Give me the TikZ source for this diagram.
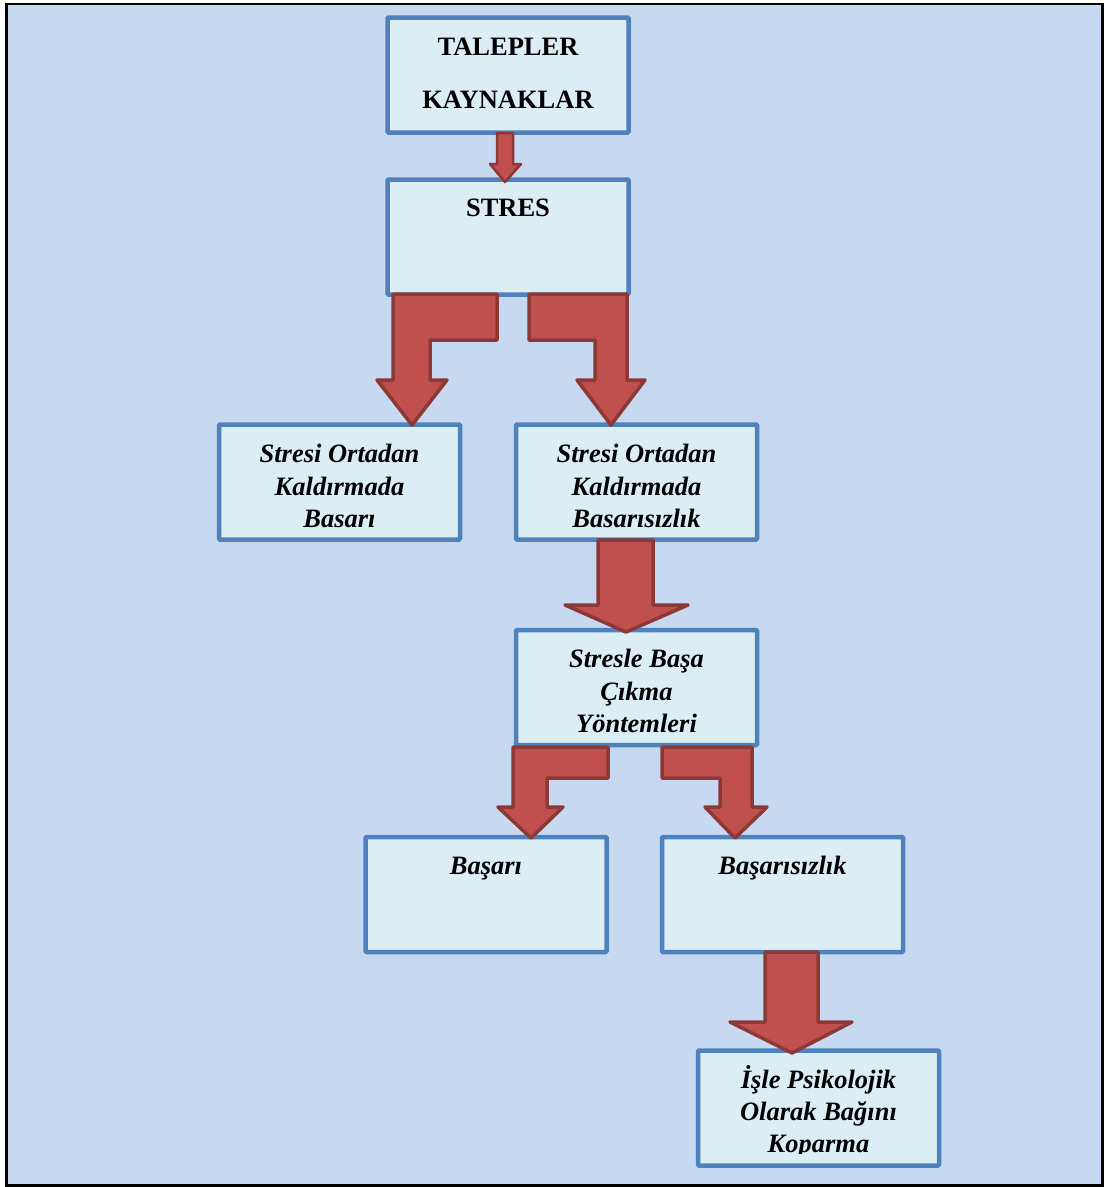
\documentclass[tikz,border=0pt]{standalone}
\usepackage{fontspec}
\setmainfont{Liberation Serif}
\definecolor{bg}{HTML}{C6D9F0}
\definecolor{boxfill}{HTML}{DBEEF4}
\definecolor{boxline}{HTML}{4F81BD}
\definecolor{arrfill}{HTML}{C0504D}
\definecolor{arrline}{HTML}{8C3836}
\begin{document}
\begin{tikzpicture}[x=1pt,y=-1pt,
  box/.style={draw=boxline,fill=boxfill,line width=4.5pt,minimum width=241pt,minimum height=115pt,inner sep=0pt,rounded corners=1pt},
  btxt/.style={font=\fontsize{26.5}{32.5}\selectfont\bfseries,align=center,inner sep=0pt,anchor=base},
  itxt/.style={font=\fontsize{26.5}{32.5}\selectfont\bfseries\itshape,align=center,inner sep=0pt,anchor=base},
  blockarrow/.style={fill=arrfill,draw=arrline,line width=3.5pt,line join=round}
]
\useasboundingbox (0,0) rectangle (1108,1187);
\fill[white] (0,0) rectangle (1108,1187);
\draw[fill=bg,line width=2.2pt] (6.5,4) rectangle (1102.5,1185.5);

% boxes
\node[box] (b1) at (508,75) {};
\node[box] (b2) at (508,237) {};
\node[box] (b3) at (339.5,482) {};
\node[box] (b4) at (636.5,482) {};
\node[box] (b5) at (636.5,687.5) {};
\node[box] (b6) at (486,894.5) {};
\node[box] (b7) at (782.5,894.5) {};
\node[box] (b8) at (818.5,1108) {};

% texts
\node[btxt] (t1a) at (508,55) {TALEPLER};
\node[btxt] (t1b) at (508,108) {KAYNAKLAR};
\node[btxt] (t2) at (508,216) {STRES};
\node[itxt] (t3a) at (339.5,462) {Stresi Ortadan};
\node[itxt] (t3b) at (339.5,495) {Kaldırmada};
\node[itxt] (t3c) at (339.5,527) {Basarı};
\node[itxt] (t4a) at (636.5,462) {Stresi Ortadan};
\node[itxt] (t4b) at (636.5,495) {Kaldırmada};
\node[itxt] (t4c) at (636.5,527) {Basarısızlık};
\node[itxt] (t5a) at (636.5,667) {Stresle Başa};
\node[itxt] (t5b) at (636.5,700) {Çıkma};
\node[itxt] (t5c) at (636.5,732) {Yöntemleri};
\node[itxt] (t6) at (486,874) {Başarı};
\node[itxt] (t7) at (782.5,874) {Başarısızlık};
\node[itxt] (t8a) at (818.5,1088) {İşle Psikolojik};
\node[itxt] (t8b) at (818.5,1120) {Olarak Bağını};
\begin{scope}
\clip (697,1130) rectangle (940,1153.5);
\node[itxt] (t8c) at (818.5,1152) {Koparma};
\end{scope}

% arrows
\draw[blockarrow,line width=2.5pt] (497,133) -- (513,133) -- (513,164) -- (521,164) -- (505,182) -- (490,164) -- (497,164) -- cycle;
\draw[blockarrow] (393,294) -- (497,294) -- (497,340) -- (430,340) -- (430,380) -- (447,380) -- (412,425) -- (377,380) -- (393,380) -- cycle;
\draw[blockarrow] (529,294) -- (627,294) -- (627,380) -- (645,380) -- (611,425) -- (577,380) -- (595,380) -- (595,340) -- (529,340) -- cycle;
\draw[blockarrow] (598,540) -- (653,540) -- (653,605) -- (688,605) -- (626,632) -- (565,605) -- (598,605) -- cycle;
\draw[blockarrow] (513,747) -- (608,747) -- (608,778) -- (547,778) -- (547,807) -- (563,807) -- (531,838) -- (498,807) -- (513,807) -- cycle;
\draw[blockarrow] (662,747) -- (752,747) -- (752,807) -- (767,807) -- (735,838) -- (705,807) -- (720,807) -- (720,778) -- (662,778) -- cycle;
\draw[blockarrow] (765,952) -- (818,952) -- (818,1022) -- (852,1022) -- (792,1053) -- (730,1022) -- (765,1022) -- cycle;
\end{tikzpicture}
\end{document}
